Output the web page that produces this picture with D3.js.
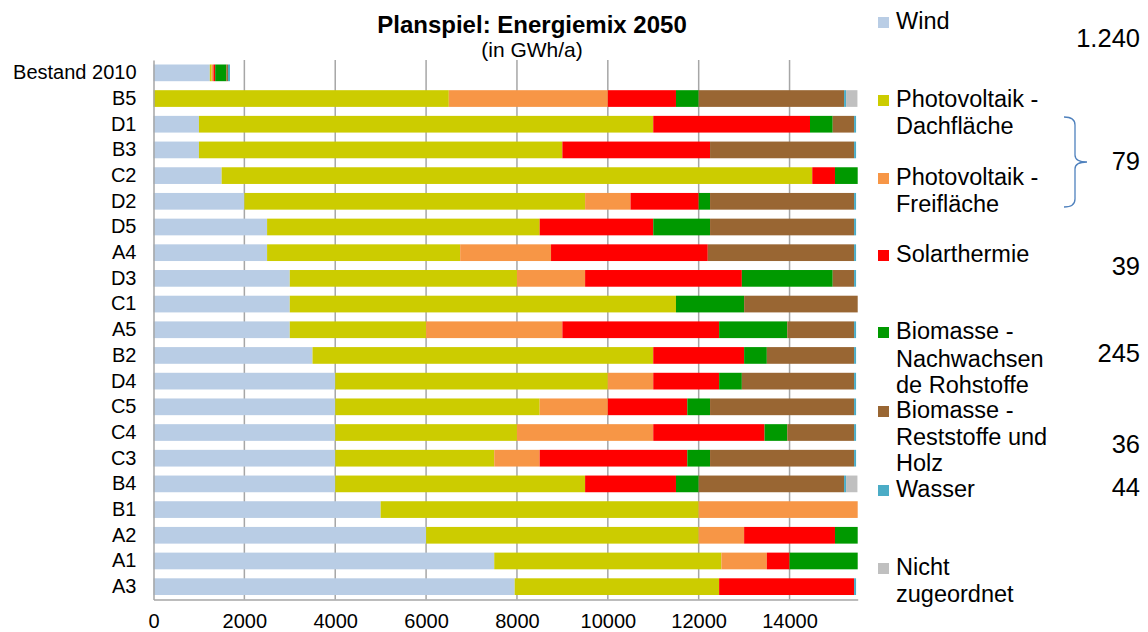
<!DOCTYPE html>
<html><head><meta charset="utf-8">
<script src="https://cdn.jsdelivr.net/npm/d3@7"></script>
<style>body{margin:0;background:#fff}svg{display:block;font-family:"Liberation Sans",Arial,sans-serif}</style>
</head><body><svg id="c" width="1148" height="632"></svg>
<script>
const categories = ["Bestand 2010","B5","D1","B3","C2","D2","D5","A4","D3","C1","A5","B2","D4","C5","C4","C3","B4","B1","A2","A1","A3"];
const seriesKeys = ["wind","pvDach","pvFrei","solar","bioNR","bioR","wasser","nicht"];
const wind   = [1240,0,1000,1000,1500,2000,2500,2500,3000,3000,3000,3500,4000,4000,4000,4000,4000,5000,6000,7500,7950];
const pvDach = [40,6500,10000,8000,13000,7500,6000,4250,5000,8500,3000,7500,6000,4500,4000,3500,5500,7000,6000,5000,4500];
const pvFrei = [39,3500,0,0,0,1000,0,2000,1500,0,3000,0,1000,1500,3000,1000,0,3500,1000,1000,0];
const solar  = [39,1500,3450,3250,500,1500,2500,3450,3450,0,3450,2000,1450,1750,2450,3250,2000,0,2000,500,2970];
const bioNR  = [245,500,500,0,500,250,1250,0,2000,1500,1500,500,500,500,500,500,500,0,500,1500,0];
const bioR   = [36,3200,470,3170,0,3170,3170,3220,470,2500,1470,1920,2470,3170,1470,3170,3200,0,0,0,0];
const wasser = [44,44,44,44,0,44,44,44,44,0,44,44,44,44,44,44,44,0,0,0,44];
const nicht  = [0,250,0,0,0,0,0,0,0,0,0,0,0,0,0,0,250,0,0,0,0];
const xTicks = [0,2000,4000,6000,8000,10000,12000,14000];
const legendLines = [["Wind"],["Photovoltaik -","Dachfläche"],["Photovoltaik -","Freifläche"],["Solarthermie"],["Biomasse -","Nachwachsen","de Rohstoffe"],["Biomasse -","Reststoffe und","Holz"],["Wasser"],["Nicht","zugeordnet"]];
const sideNumbers = ["1.240","79","39","245","36","44"];
const colors = ["#b9cde5","#cccc00","#f79646","#ff0000","#009900","#996633","#4bacc6","#c0c0c0"];

const series = {wind,pvDach,pvFrei,solar,bioNR,bioR,wasser,nicht};
const table = categories.map((c,i)=>{const o={cat:c}; seriesKeys.forEach(k=>o[k]=series[k][i]); return o;});
const stacked = d3.stack().keys(seriesKeys)(table);

const svg = d3.select("#c");
const L=153.5, R=857.7, T=60, B=599.5;
const x = d3.scaleLinear().domain([0,15500]).range([L,R]);
const y = d3.scaleBand().domain(categories).range([T,B]).paddingInner(0.35).paddingOuter(0.175);

// gridlines
svg.append("g").selectAll("line").data(xTicks.slice(1)).join("line")
  .attr("x1",d=>x(d)).attr("x2",d=>x(d)).attr("y1",T).attr("y2",B)
  .attr("stroke","#a6a6a6").attr("stroke-width",1.5);

// bars
svg.append("g").selectAll("g").data(stacked).join("g")
  .attr("fill",(d,i)=>colors[i])
  .selectAll("rect").data(d=>d).join("rect")
  .attr("x",d=>x(d[0])).attr("width",d=>Math.max(0,x(d[1])-x(d[0])))
  .attr("y",d=>y(d.data.cat)).attr("height",y.bandwidth());

// axes
const xAxis = d3.axisBottom(x).tickValues(xTicks).tickSize(0).tickPadding(0).tickFormat(d3.format("d"));
const gx = svg.append("g").attr("transform",`translate(0,${B})`).call(xAxis);
gx.select(".domain").attr("stroke","#a6a6a6").attr("stroke-width",1.5);
gx.selectAll("text").attr("font-size",20).attr("font-family","Liberation Sans, Arial, sans-serif").attr("fill","#000").attr("dy",null).attr("y",28);

const yAxis = d3.axisLeft(y).tickSize(0).tickPadding(17);
const gy = svg.append("g").attr("transform",`translate(${L},0)`).call(yAxis);
gy.select(".domain").attr("stroke","#a6a6a6").attr("stroke-width",1.5);
gy.selectAll("text").attr("font-size",20).attr("font-family","Liberation Sans, Arial, sans-serif").attr("fill","#000");

// title
svg.append("text").attr("x",532).attr("y",33).attr("text-anchor","middle").attr("font-size",24).attr("font-weight","bold").text("Planspiel: Energiemix 2050");
svg.append("text").attr("x",532).attr("y",57).attr("text-anchor","middle").attr("font-size",21).text("(in GWh/a)");

// legend
const legendBaselines = [[29],[107,134],[185,212],[262],[339,367,393],[418,445,471],[497],[575,602]];
const lg = svg.append("g");
legendLines.forEach((lines,i)=>{
  lg.append("rect").attr("x",878).attr("y",legendBaselines[i][0]-12).attr("width",11).attr("height",11).attr("fill",colors[i]);
  lines.forEach((t,j)=>{
    lg.append("text").attr("x",896).attr("y",legendBaselines[i][j]).attr("font-size",23.5).attr("fill","#000").text(t);
  });
});

// side numbers
const numBaselines = [47,170,275,362,453,496];
svg.append("g").selectAll("text").data(sideNumbers).join("text")
  .attr("x",1140).attr("y",(d,i)=>numBaselines[i]).attr("text-anchor","end").attr("font-size",25.5).attr("fill","#000").text(d=>d);

// bracket
svg.append("path").attr("d","M1064,117 Q1075,117 1075,125 L1075,155 Q1075,162 1087,162 Q1075,162 1075,169 L1075,199 Q1075,207 1064,207")
  .attr("fill","none").attr("stroke","#4f81bd").attr("stroke-width",1.3);
</script></body></html>
